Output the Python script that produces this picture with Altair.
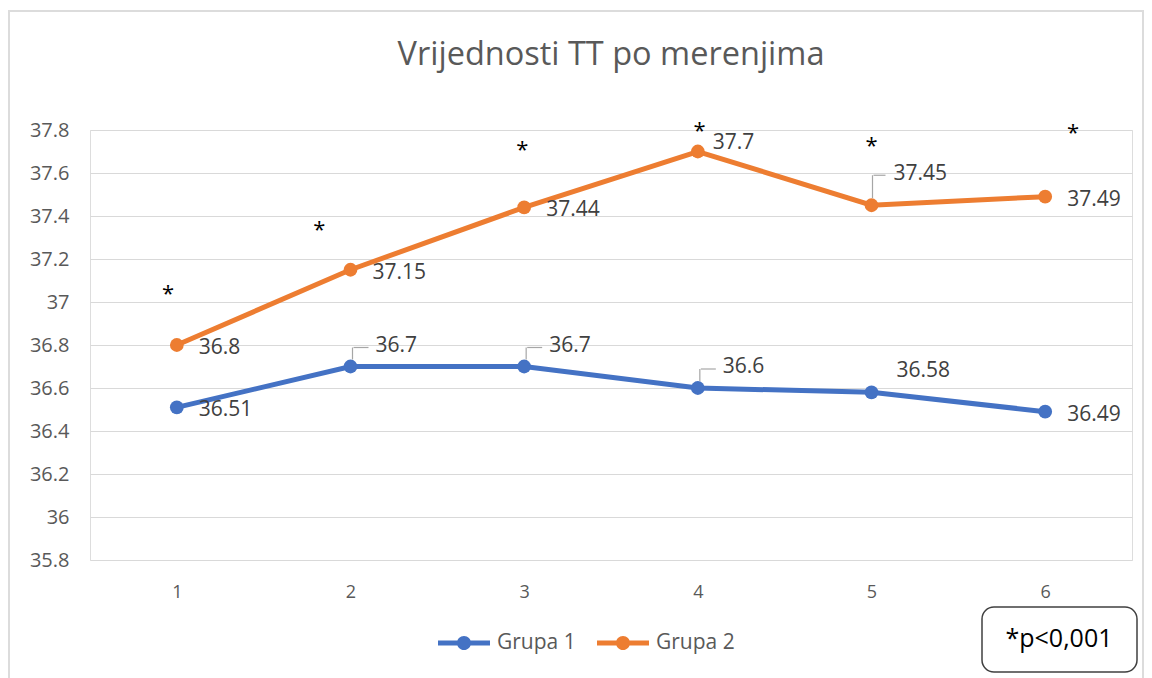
import altair as alt
import pandas as pd

# ---- data ----
measurements = [1, 2, 3, 4, 5, 6]
grupa1 = [36.51, 36.7, 36.7, 36.6, 36.58, 36.49]
grupa2 = [36.8, 37.15, 37.44, 37.7, 37.45, 37.49]
# label placement (style) per point
place1 = ["right", "above", "above", "above", "above", "right"]
place2 = ["right", "right", "right", "upright", "high", "right"]
leader1 = [False, True, True, True, False, False]
leader2 = [False, False, False, False, True, False]
# significance stars (annotation anchors in data units)
star_x = [0.95, 1.82, 2.99, 4.01, 5.0, 6.16]
star_y = [37.06, 37.36, 37.73, 37.82, 37.75, 37.81]
y_ticks = [35.8, 36.0, 36.2, 36.4, 36.6, 36.8, 37.0, 37.2, 37.4, 37.6, 37.8]
title_text = "Vrijednosti TT po merenjima"
note_text = "*p<0,001"

rows = []
for c, v, p, l in zip(measurements, grupa1, place1, leader1):
    rows.append(dict(m=c, v=v, g="Grupa 1", place=p, leader=l, lab=f"{v:g}"))
for c, v, p, l in zip(measurements, grupa2, place2, leader2):
    rows.append(dict(m=c, v=v, g="Grupa 2", place=p, leader=l, lab=f"{v:g}"))
df = pd.DataFrame(rows)
stars = pd.DataFrame(dict(x=star_x, y=star_y, t=["*"] * len(star_x)))
one = pd.DataFrame(dict(k=[0]))

FONT = "Open Sans"
BLUE = "#4472C4"
ORANGE = "#ED7D31"

xs = alt.Scale(domain=[0.5, 6.5], nice=False, zero=False)
ys = alt.Scale(domain=[35.8, 37.8], nice=False, zero=False)

X = alt.X("m:Q", scale=xs, axis=alt.Axis(values=measurements, format="d", grid=False,
                                           domain=False, ticks=False, labelPadding=23,
                                           labelFontSize=18, labelColor="#595959",
                                           labelFont=FONT, title=None))
Y = alt.Y("v:Q", scale=ys, axis=alt.Axis(values=y_ticks, format="~g", grid=True,
                                          gridColor="#d9d9d9", domain=False, ticks=False,
                                          labelPadding=21, labelFontSize=20,
                                          labelColor="#595959", labelFont=FONT, title=None))

legend_path = ("M-1,-0.096L1,-0.096L1,0.096L-1,0.096Z"
               "M0.27,0A0.27,0.27,0,1,1,-0.27,0A0.27,0.27,0,1,1,0.27,0Z")

color = alt.Color("g:N", scale=alt.Scale(domain=["Grupa 1", "Grupa 2"], range=[BLUE, ORANGE]),
                  legend=alt.Legend(title=None, orient="none", direction="horizontal",
                                    legendX=348, legendY=487, symbolType=legend_path,
                                    symbolSize=2704, symbolStrokeWidth=0, symbolOpacity=1,
                                    labelOffset=7, columnPadding=21, labelFontSize=21,
                                    labelColor="#595959", labelFont=FONT, padding=0))

border = alt.Chart(one).mark_rect(fill=None, stroke="#dcdcdc", strokeWidth=2).encode(
    x=alt.value(-81), x2=alt.value(1053), y=alt.value(-119), y2=alt.value(600))

title = alt.Chart(pd.DataFrame(dict(t=[title_text]))).mark_text(
    fontSize=32.5, color="#595959", font=FONT, align="center", baseline="alphabetic").encode(
    x=alt.value(521), y=alt.value(-65), text="t:N")

lines = alt.Chart(df).mark_line(strokeWidth=5).encode(x=X, y=Y, color=color)
points = alt.Chart(df).mark_point(filled=True, size=190, opacity=1).encode(
    x=X, y=Y, color=alt.Color("g:N", scale=alt.Scale(domain=["Grupa 1", "Grupa 2"],
                                                      range=[BLUE, ORANGE]), legend=None))

def labels(place, dx, dy):
    return alt.Chart(df).transform_filter(alt.datum.place == place).mark_text(
        align="left", baseline="middle", dx=dx, dy=dy, fontSize=21, color="#404040",
        font=FONT).encode(x="m:Q", y="v:Q", text="lab:N")

lab_layers = [labels("right", 22, 3), labels("above", 25, -21),
              labels("upright", 15, -9), labels("high", 22, -31)]

lead_v_above = alt.Chart(df).transform_filter(
    alt.datum.leader & (alt.datum.place == "above")).mark_rule(
    color="#a6a6a6", strokeWidth=1.2, yOffset=-7, y2Offset=-19, xOffset=2, x2Offset=3).encode(
    x="m:Q", y="v:Q", y2="v:Q")
lead_h_above = alt.Chart(df).transform_filter(
    alt.datum.leader & (alt.datum.place == "above")).mark_rule(
    color="#a6a6a6", strokeWidth=1.2, yOffset=-19, xOffset=3, x2Offset=18).encode(
    x="m:Q", x2="m:Q", y="v:Q")
lead_v_high = alt.Chart(df).transform_filter(
    alt.datum.leader & (alt.datum.place == "high")).mark_rule(
    color="#a6a6a6", strokeWidth=1.2, yOffset=-7, y2Offset=-30, xOffset=1, x2Offset=2).encode(
    x="m:Q", y="v:Q", y2="v:Q")
lead_h_high = alt.Chart(df).transform_filter(
    alt.datum.leader & (alt.datum.place == "high")).mark_rule(
    color="#a6a6a6", strokeWidth=1.2, yOffset=-30, xOffset=2, x2Offset=14).encode(
    x="m:Q", x2="m:Q", y="v:Q")

star_layer = alt.Chart(stars).mark_text(fontSize=22, color="#000000", font=FONT,
                                        baseline="middle", dy=5).encode(
    x=alt.X("x:Q", scale=xs), y=alt.Y("y:Q", scale=ys), text="t:N")

pbox = alt.Chart(one).mark_rect(fill="white", stroke="#404040", strokeWidth=1.5,
                                cornerRadius=12).encode(
    x=alt.value(892), x2=alt.value(1047), y=alt.value(477), y2=alt.value(542))
ptext = alt.Chart(pd.DataFrame(dict(t=[note_text]))).mark_text(
    fontSize=25, color="#000000", font=FONT, align="center", baseline="middle").encode(
    x=alt.value(969), y=alt.value(509), text="t:N")

chart = alt.layer(border, title, lines, points, lead_v_above, lead_h_above, lead_v_high,
                  lead_h_high, *lab_layers, star_layer, pbox, ptext).properties(
    width=1042, height=430,
    autosize=alt.AutoSizeParams(type="none"),
    padding={"left": 82, "top": 122, "right": 12, "bottom": 118},
).configure_view(stroke=None).configure(background="white")

chart.save("out.html", embed_options={"renderer": "svg", "actions": False})
